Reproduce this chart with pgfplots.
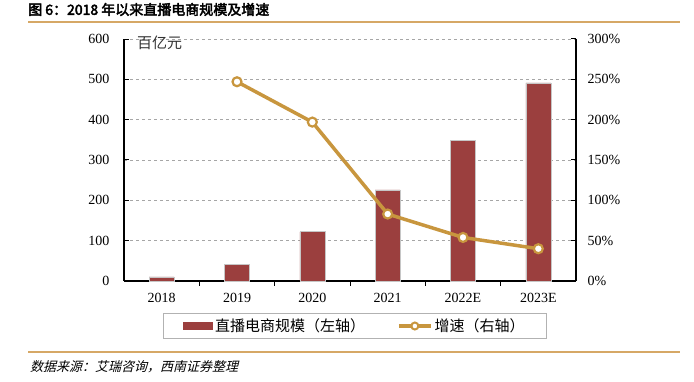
\documentclass[border=0pt]{standalone}
\usepackage{pgfplots}
\pgfplotsset{compat=1.18}
\usepackage{fontspec}
\setmainfont{Liberation Serif}
\newfontfamily\cjk{Noto Sans CJK SC}
\newfontfamily\cjkbf{Noto Sans CJK SC}[FakeBold=3]
\newfontfamily\cjkit{Noto Sans CJK SC}[FakeSlant=0.25]
\definecolor{barc}{HTML}{9B3F3E}
\definecolor{goldc}{HTML}{C8963E}
\definecolor{rulec}{HTML}{D6A866}
\begin{document}
\begin{tikzpicture}
\useasboundingbox (0pt,0pt) rectangle (694pt,382pt);
\node[anchor=west, inner sep=0pt, font=\cjkbf\fontsize{14}{14}\selectfont] at (28pt,372.5pt) {图 6：2018 年以来直播电商规模及增速};
\draw[rulec, line width=1.5pt] (28pt,360pt) -- (680pt,360pt);
\draw[rulec, line width=1.5pt] (28pt,30pt) -- (680pt,30pt);
\node[anchor=west, inner sep=0pt, font=\cjkit\fontsize{13}{13}\selectfont] at (30pt,15pt) {数据来源：艾瑞咨询，西南证券整理};

\begin{axis}[
  at={(124pt,101pt)}, anchor=south west,
  scale only axis, width=452pt, height=242pt,
  xmin=-0.5, xmax=5.5, ymin=0, ymax=600,
  axis lines*=left,
  axis line style={-, black, line width=1.2pt},
  xtick={0,1,2,3,4,5},
  xticklabels={2018,2019,2020,2021,2022E,2023E},
  minor xtick={0.5,1.5,2.5,3.5,4.5},
  major x tick style={draw=none},
  minor tick length=5pt,
  minor x tick style={black, line width=1pt},
  ytick={0,100,...,600},
  tick align=inside,
  major tick length=5pt,
  y tick style={black, line width=1pt},
  ymajorgrids,
  grid style={gray!70, dashed, line width=0.8pt},
  /pgf/number format/assume math mode=true,
  tick label style={font=\fontsize{14}{14}\selectfont},
  yticklabel style={xshift=-11pt},
  xticklabel style={yshift=-4pt},
  ybar, bar width=25pt,
  clip=false,
]
\addplot[fill=barc, draw=gray!45, line width=0.6pt] coordinates {(0,10) (1,42) (2,122) (3,226) (4,348) (5,491)};
\node[anchor=north west, inner sep=0pt, text=black!80, font=\cjk\fontsize{15}{15}\selectfont] at (rel axis cs:0,1) [xshift=13pt, yshift=3pt] {百亿元};
\end{axis}

\begin{axis}[
  at={(124pt,101pt)}, anchor=south west,
  scale only axis, width=452pt, height=242pt,
  xmin=-0.5, xmax=5.5, ymin=0, ymax=300,
  axis x line=none,
  axis y line*=right,
  axis line style={-, black, line width=1.2pt},
  ytick={0,50,...,300},
  yticklabel={\pgfmathprintnumber{\tick}\%},
  tick align=inside,
  major tick length=5pt,
  y tick style={black, line width=1pt},
  /pgf/number format/assume math mode=true,
  tick label style={font=\fontsize{14}{14}\selectfont},
  yticklabel style={xshift=8pt},
  clip=false,
  legend style={at={(0.511,-0.186)}, anchor=center, draw=gray!60, line width=0.8pt,
    font=\cjk\fontsize{15}{15}\selectfont, inner xsep=20pt, inner ysep=3pt,
    legend columns=2,
    /tikz/every even column/.append style={column sep=30pt}},
  legend cell align=left,
]
\addlegendimage{legend image code/.code={\fill[barc] (0pt,-3.5pt) rectangle (29pt,3.5pt);}}
\addlegendentry{直播电商规模（左轴）}
\addplot[goldc, line width=3.5pt, mark=*, mark size=4.5pt,
  mark options={fill=white, draw=goldc, line width=2.2pt},
  legend image code/.code={\draw[goldc, line width=3.5pt] (0pt,0pt) -- (32pt,0pt); \draw[goldc, line width=2pt, fill=white] (16pt,0pt) circle (3.5pt);}]
  coordinates {(1,247) (2,197) (3,83) (4,54) (5,40)};
\addlegendentry{增速（右轴）}
\end{axis}
\end{tikzpicture}
\end{document}
